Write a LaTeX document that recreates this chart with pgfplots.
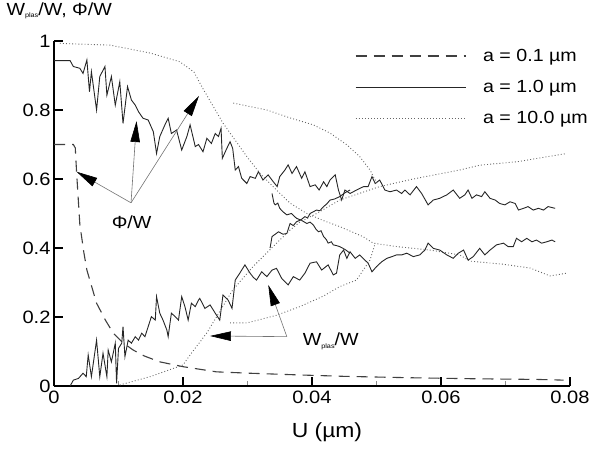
\documentclass[border=0pt]{standalone}
\usepackage{fontspec}
\setmainfont{Liberation Sans}[FakeStretch=1.12]
\usepackage{pgfplots}
\pgfplotsset{compat=1.18}
\usetikzlibrary{arrows.meta}

\newcommand{\lblfont}{\fontsize{17.6}{20}\selectfont}
\tikzset{
  annot/.style={black!55, line width=0.6bp, -{Triangle[length=21bp,width=9.5bp,color=black,fill=black]}},
}

\begin{document}
\begin{tikzpicture}
\path[use as bounding box] (-54bp,-63bp) rectangle (537bp,386bp);
\begin{axis}[
    scale only axis, width=516bp, height=345bp,
    xmin=0, xmax=0.08, ymin=0, ymax=1,
    axis lines=left, axis line style={-, line width=1.6bp},
    tick align=inside,
    scaled x ticks=false, scaled y ticks=false,
    xtick={0,0.02,0.04,0.06,0.08}, xticklabels={0,0.02,0.04,0.06,0.08},
    minor xtick={0.01,0.03,0.05,0.07},
    ytick={0,0.2,0.4,0.6,0.8,1}, yticklabels={0,0.2,0.4,0.6,0.8,1},
    major tick length=9bp, minor tick length=5bp,
    major tick style={line width=1.6bp, black},
    minor tick style={line width=0.5bp, black!45},
    tick label style={font=\fontsize{18}{20}\selectfont},
    xticklabel style={yshift=-1bp},
    xlabel={U (µm)}, ylabel={W\raisebox{-2.5bp}{\fontsize{6.5}{7}\selectfont plas}/W, Φ/W},
    xlabel style={font=\fontsize{20.5}{22}\selectfont, at={(rel axis cs:0.529,-0.133)}, anchor=center},
    ylabel style={font=\lblfont, rotate=-90, at={(rel axis cs:-0.0988,1.087)}, anchor=west},
    clip=false,
    legend image code/.code={\draw[#1] (0bp,0bp) -- (110bp,0bp);},
    legend style={draw=none, fill=none, at={(0.583,0.977)}, anchor=north west,
      font=\lblfont, row sep=17.5bp, column sep=17bp, inner sep=0pt, nodes={inner sep=0pt}},
    legend cell align=left,
]
% a = 0.1 um
\addplot[black!75, line width=1.1bp, dash pattern=on 11bp off 7bp] coordinates {
(0,0.70) (0.0030,0.70) (0.0033,0.69) (0.0035,0.62) (0.0040,0.47) (0.0046,0.39)
(0.0051,0.336) (0.0066,0.24) (0.0080,0.19) (0.0092,0.153) (0.0107,0.125) (0.0123,0.104)
(0.0140,0.087) (0.0164,0.070) (0.0200,0.056) (0.0252,0.041) (0.0304,0.037) (0.0381,0.032)
(0.0450,0.028) (0.0550,0.024) (0.0650,0.021) (0.0750,0.019) (0.0790,0.017)};
\addlegendentry{a = 0.1 µm}
% a = 1.0 um, Phi/W
\addplot[black!85, line width=0.9bp] coordinates {
(0,0.943) (0.0025,0.943) (0.0030,0.926) (0.0040,0.921) (0.0045,0.906) (0.0051,0.945)
(0.0055,0.853) (0.0058,0.911) (0.0066,0.800) (0.0071,0.897) (0.0079,0.926) (0.0082,0.843)
(0.0089,0.897) (0.0095,0.814) (0.0102,0.882) (0.0107,0.761) (0.0114,0.868) (0.0120,0.829)
(0.0126,0.814) (0.0131,0.795) (0.0138,0.776) (0.0146,0.771) (0.0154,0.737) (0.0159,0.674)
(0.0164,0.723) (0.0172,0.757) (0.0177,0.776) (0.0182,0.732) (0.0190,0.742) (0.0198,0.684)
(0.0206,0.723) (0.0211,0.757) (0.0219,0.694) (0.0224,0.700) (0.0231,0.679) (0.0237,0.718)
(0.0244,0.703) (0.0250,0.732) (0.0255,0.723) (0.0259,0.747) (0.0261,0.660) (0.0268,0.689)
(0.0273,0.708) (0.0277,0.689) (0.0281,0.626) (0.0286,0.636) (0.0291,0.602) (0.0299,0.587)
(0.0304,0.607) (0.0312,0.602) (0.0317,0.621) (0.0324,0.597) (0.0332,0.612) (0.0340,0.592)
(0.0346,0.578) (0.0350,0.607) (0.0358,0.626) (0.0363,0.641) (0.0369,0.616) (0.0376,0.636)
(0.0384,0.602) (0.0389,0.621) (0.0397,0.578) (0.0405,0.583) (0.0411,0.568) (0.0418,0.592)
(0.0423,0.578) (0.0428,0.597) (0.0436,0.612) (0.0441,0.568) (0.0446,0.539) (0.0451,0.568)
(0.0459,0.558) (0.0469,0.568) (0.0480,0.578) (0.0487,0.578) (0.0493,0.607) (0.0498,0.587)
(0.0505,0.597) (0.0513,0.568) (0.0521,0.563) (0.0531,0.568) (0.0539,0.558) (0.0544,0.568)
(0.0552,0.554) (0.0562,0.578) (0.0570,0.558) (0.0580,0.525) (0.0588,0.539) (0.0598,0.544)
(0.0609,0.554) (0.0619,0.568) (0.0629,0.544) (0.0637,0.554) (0.0642,0.568) (0.0648,0.544)
(0.0655,0.554) (0.0663,0.549) (0.0668,0.563) (0.0676,0.544) (0.0684,0.539) (0.0691,0.529)
(0.0699,0.525) (0.0707,0.534) (0.0715,0.529) (0.0720,0.510) (0.0728,0.515) (0.0735,0.520)
(0.0743,0.510) (0.0751,0.515) (0.0759,0.510) (0.0766,0.520) (0.0777,0.515)};
\addlegendentry{a = 1.0 µm}
% a = 10.0 um, Phi/W
\addplot[black!60, line width=0.9bp, dash pattern=on 0.9bp off 2.2bp] coordinates {
(0.0009,0.993) (0.0087,0.988) (0.0149,0.965) (0.0195,0.94) (0.0217,0.91) (0.0229,0.868)
(0.0262,0.762) (0.0299,0.665) (0.0319,0.617) (0.0345,0.568) (0.0366,0.530) (0.0392,0.500)
(0.0417,0.480) (0.0443,0.462) (0.0479,0.433) (0.0495,0.414) (0.0532,0.404) (0.0583,0.394)
(0.0629,0.380) (0.0645,0.362) (0.0696,0.353) (0.0738,0.342) (0.0769,0.319) (0.0795,0.327)};
\addlegendentry{a = 10.0 µm}
% a = 1.0 um, Wplas/W
\addplot[black!85, line width=0.9bp, forget plot] coordinates {
(0.0025,0) (0.0030,0.017) (0.0038,0.022) (0.0045,0.037) (0.0050,0.027) (0.0053,0.090)
(0.0058,0.027) (0.0066,0.133) (0.0071,0.027) (0.0076,0.095) (0.0082,0.027) (0.0084,0.104)
(0.0089,0.070) (0.0095,0.124) (0.0097,0.008) (0.0100,0.109) (0.0105,0.124) (0.0107,0.172)
(0.0110,0.085) (0.0115,0.133) (0.0120,0.124) (0.0126,0.143) (0.0131,0.133) (0.0136,0.153)
(0.0141,0.143) (0.0146,0.172) (0.0151,0.201) (0.0157,0.191) (0.0159,0.259) (0.0164,0.211)
(0.0169,0.191) (0.0175,0.162) (0.0177,0.143) (0.0182,0.211) (0.0188,0.201) (0.0193,0.191)
(0.0198,0.259) (0.0203,0.230) (0.0208,0.191) (0.0213,0.240) (0.0219,0.230) (0.0224,0.249)
(0.0226,0.254) (0.0234,0.225) (0.0242,0.235) (0.0250,0.211) (0.0257,0.191) (0.0262,0.264)
(0.0270,0.249) (0.0276,0.225) (0.0281,0.307) (0.0288,0.327) (0.0296,0.351) (0.0304,0.327)
(0.0309,0.315) (0.0314,0.307) (0.0322,0.331) (0.0330,0.317) (0.0338,0.336) (0.0345,0.341)
(0.0353,0.312) (0.0363,0.293) (0.0371,0.317) (0.0381,0.307) (0.0389,0.327) (0.0397,0.356)
(0.0407,0.360) (0.0415,0.336) (0.0425,0.351) (0.0433,0.322) (0.0438,0.327) (0.0443,0.380)
(0.0449,0.394) (0.0454,0.370) (0.0459,0.389) (0.0467,0.370) (0.0474,0.380) (0.0482,0.365)
(0.0487,0.356) (0.0493,0.331) (0.0500,0.346) (0.0508,0.360) (0.0516,0.370) (0.0524,0.375)
(0.0531,0.380) (0.0539,0.380) (0.0547,0.385) (0.0557,0.375) (0.0567,0.380) (0.0575,0.394)
(0.0580,0.414) (0.0588,0.399) (0.0598,0.394) (0.0609,0.380) (0.0619,0.370) (0.0627,0.385)
(0.0635,0.394) (0.0642,0.365) (0.0650,0.375) (0.0660,0.399) (0.0668,0.380) (0.0676,0.394)
(0.0686,0.409) (0.0697,0.414) (0.0704,0.404) (0.0712,0.404) (0.0717,0.428) (0.0725,0.418)
(0.0733,0.428) (0.0741,0.418) (0.0748,0.423) (0.0756,0.414) (0.0764,0.418) (0.0772,0.423)
(0.0777,0.418)};
% a = 1.0 um, crossing branches
\addplot[black!85, line width=0.9bp, forget plot] coordinates {
(0.0338,0.558) (0.0341,0.530) (0.0343,0.525) (0.0347,0.530) (0.0350,0.515) (0.0355,0.505)
(0.0361,0.496) (0.0368,0.500) (0.0376,0.486) (0.0384,0.480) (0.0392,0.471) (0.0397,0.475)
(0.0402,0.467) (0.0406,0.455) (0.0410,0.447) (0.0414,0.450) (0.0418,0.433) (0.0422,0.425)
(0.0425,0.414) (0.0430,0.418) (0.0433,0.409) (0.0438,0.407) (0.0443,0.404) (0.0451,0.396)
(0.0459,0.385)};
\addplot[black!85, line width=0.9bp, forget plot] coordinates {
(0.0335,0.400) (0.0338,0.433) (0.0343,0.440) (0.0348,0.447) (0.0355,0.440) (0.0361,0.442)
(0.0366,0.471) (0.0371,0.465) (0.0376,0.476) (0.0383,0.482) (0.0389,0.491) (0.0393,0.487)
(0.0397,0.500) (0.0402,0.505) (0.0407,0.510) (0.0412,0.508) (0.0418,0.520) (0.0423,0.528)
(0.0428,0.539) (0.0435,0.542) (0.0443,0.549) (0.0451,0.560) (0.0459,0.568)};
% a = 10.0 um, Wplas/W
\addplot[black!60, line width=0.9bp, dash pattern=on 0.9bp off 2.2bp, forget plot] coordinates {
(0.0102,0.003) (0.0149,0.027) (0.0200,0.061) (0.0211,0.090) (0.0237,0.154) (0.0277,0.278)
(0.0308,0.345) (0.0339,0.403) (0.0366,0.452) (0.0381,0.475) (0.0407,0.500) (0.0443,0.539)
(0.0505,0.578) (0.0557,0.600) (0.0629,0.626) (0.0660,0.640) (0.0718,0.650) (0.0795,0.674)};
% a = 10.0 um, second run
\addplot[black!60, line width=0.9bp, dash pattern=on 0.9bp off 2.2bp, forget plot] coordinates {
(0.0278,0.820) (0.0330,0.800) (0.0366,0.777) (0.0402,0.757) (0.0428,0.733) (0.0454,0.699)
(0.0474,0.665) (0.0490,0.626) (0.0495,0.607) (0.0501,0.588)};
\addplot[black!60, line width=0.9bp, dash pattern=on 0.9bp off 2.2bp, forget plot] coordinates {
(0.0273,0.183) (0.0299,0.183) (0.0314,0.190) (0.0345,0.205) (0.0381,0.230) (0.0417,0.260)
(0.0443,0.288) (0.0469,0.307) (0.0490,0.365) (0.0498,0.414)};
% annotations
\draw[annot] (axis cs:0.01194,0.531) -- (axis cs:0.0035,0.621);
\draw[annot] (axis cs:0.01194,0.531) -- (axis cs:0.0128,0.768);
\draw[annot] (axis cs:0.01194,0.531) -- (axis cs:0.02248,0.841);
\node[font=\lblfont] at (axis cs:0.01204,0.476) {Φ/W};
\draw[annot] (axis cs:0.0361,0.143) -- (axis cs:0.02418,0.145);
\draw[annot] (axis cs:0.0361,0.143) -- (axis cs:0.03322,0.293);
\node[font=\lblfont] at (axis cs:0.0429,0.130) {W\raisebox{-2.5bp}{\fontsize{6.5}{7}\selectfont plas}/W};
\end{axis}
\end{tikzpicture}
\end{document}
